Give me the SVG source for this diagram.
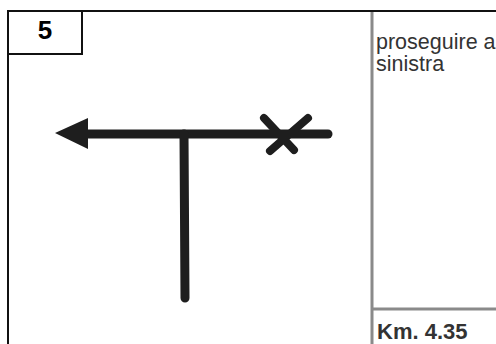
<svg xmlns="http://www.w3.org/2000/svg" width="496" height="344" viewBox="0 0 496 344">
<style>
.frame{stroke:#111;stroke-width:2;fill:none}
.div{stroke:#8a8a8a;stroke-width:3;fill:none}
.road{stroke:#1e1e1e;stroke-width:9;stroke-linecap:round;fill:none}
.x{stroke:#1e1e1e;stroke-width:8;stroke-linecap:round;fill:none}
.txt{font-family:"Liberation Sans",Arial,sans-serif;fill:#333}
</style>
<rect width="496" height="344" fill="#fff"/>
<g id="frame">
<path class="frame" d="M8,344 V11 H496"/>
<rect class="frame" x="8" y="11" width="74" height="43"/>
<text class="txt" x="45" y="39" font-size="26" font-weight="bold" text-anchor="middle" style="fill:#000">5</text>
<line class="div" x1="372" y1="12" x2="372" y2="344"/>
<line class="div" x1="372" y1="309" x2="496" y2="309"/>
</g>
<g id="connectors">
<line class="road" x1="84" y1="134" x2="328" y2="134"/>
<line class="road" x1="184" y1="134" x2="185" y2="298"/>
<polygon points="55,133 88,118 88,149" fill="#1e1e1e"/>
<line class="x" x1="264" y1="118" x2="294" y2="150"/>
<line class="x" x1="308" y1="118" x2="270" y2="151"/>
</g>
<g id="texts">
<text class="txt" x="376" y="49" font-size="21.5">proseguire a</text>
<text class="txt" x="376" y="71" font-size="21.5">sinistra</text>
<text class="txt" x="377" y="339" font-size="22" font-weight="bold">Km. 4.35</text>
</g>
</svg>
